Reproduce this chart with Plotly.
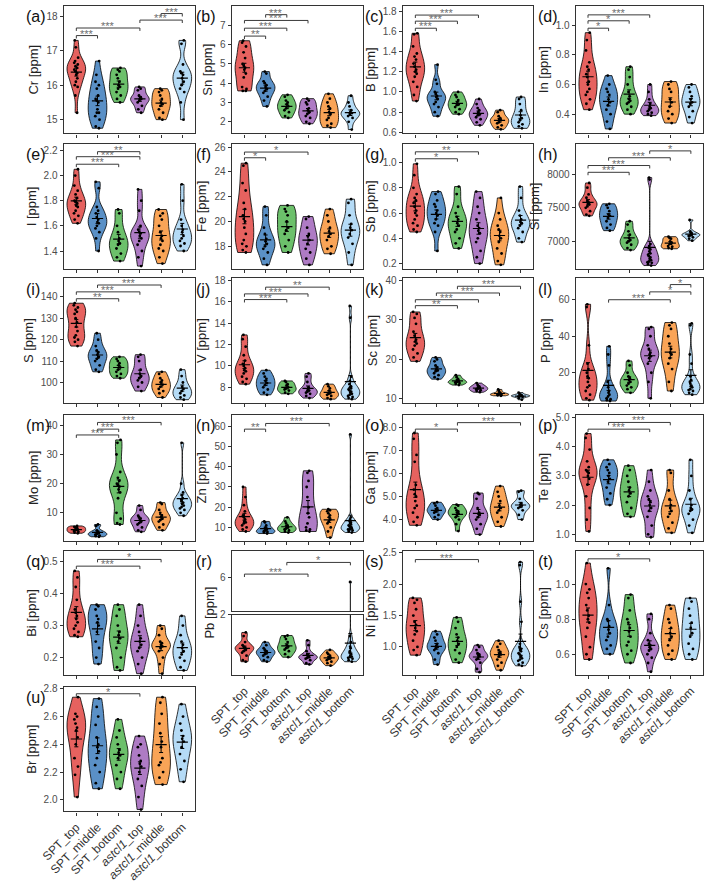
import numpy as np
import plotly.graph_objects as go

W, H = 709, 883
groups = ["SPT_top", "SPT_middle", "SPT_bottom", "<i>astcl1</i>_top", "<i>astcl1</i>_middle", "<i>astcl1</i>_bottom"]
colors = ["#E6625F", "#5A90C6", "#6CC06B", "#AE7BC4", "#F9A457", "#B5DBF6"]

# ---------------- data (ppm), one list per group ----------------
cr = [[17.3,17.1,16.8,16.7,16.65,16.6,16.55,16.5,16.45,16.4,16.35,16.3,16.2,16.1,16.0,15.95,15.7,15.2],
      [16.7,16.3,16.1,16.0,15.9,15.7,15.6,15.55,15.5,15.3,15.2,15.2,15.1,15.0,14.8,14.75],
      [16.5,16.45,16.4,16.3,16.2,16.1,16.0,15.95,15.9,15.8,15.7,15.6,15.5],
      [15.95,15.9,15.85,15.7,15.65,15.6,15.6,15.55,15.5,15.4,15.3,15.2],
      [15.9,15.85,15.8,15.7,15.6,15.5,15.45,15.4,15.3,15.2,15.05,15.0],
      [17.3,17.2,16.6,16.4,16.35,16.3,16.2,16.1,16.0,15.9,15.8,15.5,15.0]]
sn = [[6.2,6.1,5.9,5.6,5.3,5.0,4.9,4.8,4.7,4.5,4.3,3.8,3.7,3.6,3.6],
      [4.6,4.5,4.1,4.0,3.9,3.8,3.7,3.6,3.5,3.3,3.1,2.8],
      [3.4,3.3,3.1,3.0,2.9,2.8,2.7,2.6,2.5,2.3,2.2],
      [3.2,3.1,3.0,2.9,2.7,2.6,2.5,2.4,2.3,2.2,2.0,1.9],
      [3.45,3.2,3.0,2.8,2.7,2.5,2.4,2.2,2.1,1.9,1.8,1.7],
      [3.35,3.0,2.8,2.6,2.5,2.45,2.4,2.3,2.2,2.0,1.6]]
b = [[1.58,1.57,1.45,1.38,1.35,1.32,1.28,1.25,1.22,1.2,1.18,1.15,1.1,1.05,0.97,0.91],
     [1.27,1.12,1.08,1.0,0.98,0.96,0.95,0.93,0.9,0.88,0.85,0.8,0.76],
     [1.0,0.97,0.95,0.92,0.9,0.88,0.87,0.85,0.83,0.8,0.78],
     [0.93,0.88,0.84,0.82,0.8,0.78,0.77,0.75,0.73,0.7,0.67],
     [0.82,0.8,0.76,0.74,0.73,0.72,0.7,0.69,0.67,0.65,0.63],
     [0.95,0.93,0.88,0.82,0.77,0.74,0.72,0.7,0.68,0.66,0.64]]
inn = [[0.95,0.9,0.83,0.75,0.72,0.7,0.67,0.65,0.62,0.6,0.57,0.55,0.53,0.5,0.47,0.43],
       [0.66,0.6,0.57,0.55,0.53,0.5,0.48,0.46,0.43,0.4,0.35,0.3],
       [0.72,0.7,0.65,0.6,0.55,0.52,0.5,0.49,0.48,0.47,0.45,0.43,0.4],
       [0.6,0.55,0.5,0.47,0.45,0.44,0.43,0.42,0.41,0.4,0.39],
       [0.62,0.6,0.57,0.55,0.5,0.48,0.45,0.42,0.4,0.37,0.34],
       [0.6,0.58,0.55,0.52,0.5,0.48,0.47,0.45,0.42,0.38,0.34]]
io = [[2.05,2.0,1.92,1.88,1.85,1.82,1.8,1.79,1.78,1.76,1.75,1.72,1.7,1.68,1.65,1.62],
      [1.95,1.9,1.75,1.72,1.7,1.67,1.65,1.63,1.62,1.6,1.58,1.55,1.5,1.4],
      [1.73,1.7,1.6,1.55,1.5,1.48,1.46,1.45,1.42,1.38,1.35,1.32],
      [1.89,1.8,1.72,1.6,1.57,1.55,1.54,1.52,1.5,1.48,1.45,1.4,1.35,1.28],
      [1.73,1.7,1.68,1.65,1.6,1.55,1.52,1.5,1.48,1.45,1.42,1.4,1.35,1.3],
      [1.93,1.8,1.65,1.6,1.57,1.55,1.52,1.5,1.48,1.46,1.44,1.4]]
fe = [[24.7,24.5,23.1,22.5,21.5,21.0,20.5,20.2,20.0,19.5,19.0,18.5,18.2,18.0,17.7,17.5],
      [21.2,20.5,19.5,19.0,18.6,18.4,18.2,18.0,17.8,17.5,17.0,16.5],
      [21.3,21.0,20.8,20.5,20.0,19.5,19.3,19.0,18.5,18.0,17.5],
      [20.4,20.2,19.5,19.0,18.8,18.5,18.2,17.8,17.5,17.0,16.5],
      [21.0,20.5,20.0,19.5,19.2,19.0,18.8,18.5,18.0,17.8,17.4],
      [21.8,21.5,20.5,19.8,19.5,19.3,19.0,18.7,18.2,17.5,16.5]]
sb = [[0.99,0.9,0.8,0.75,0.72,0.7,0.68,0.65,0.62,0.6,0.58,0.55,0.52,0.5,0.47,0.45],
      [0.77,0.75,0.7,0.67,0.65,0.62,0.6,0.58,0.55,0.52,0.5,0.45,0.3],
      [0.81,0.75,0.65,0.6,0.57,0.55,0.52,0.5,0.47,0.45,0.4,0.36,0.32],
      [0.77,0.72,0.65,0.6,0.55,0.5,0.48,0.46,0.44,0.4,0.37,0.3,0.25,0.2],
      [0.72,0.6,0.55,0.5,0.47,0.45,0.42,0.4,0.37,0.32,0.28,0.22,0.19],
      [0.81,0.72,0.62,0.58,0.55,0.53,0.52,0.5,0.48,0.45,0.4,0.37]]
si = [[7870,7800,7700,7650,7600,7580,7560,7550,7520,7500,7450,7400,7380],
      [7560,7540,7500,7450,7400,7380,7350,7300,7250,7200,7160],
      [7300,7250,7150,7100,7050,7020,7000,6980,6950,6900,6870],
      [7950,7920,6960,6930,6900,6880,6850,6820,6800,6780,6760,6740,6720,6700,6690,6680,6660,6640],
      [7070,7050,7040,7000,6980,6960,6930,6920,6900,6890],
      [7320,7150,7120,7110,7100,7090,7080,7060,7040,7010]]
s = [[137,136,135,134,133,132,130,128,126,124,122,121,120,119,117],
     [123,120,117,115,114,113,112,111,110,108,106,105],
     [112,111,110,109,108,107,106,105,104,103,102],
     [113,112,110,106,104,103,102,101,100,98,96],
     [105,104,102,101,100,99,98,97,96,95,93],
     [106,103,100,98,97,96,95,94,93,92]]
v = [[12.9,12.5,11.8,11.0,10.5,10.2,10.0,9.8,9.6,9.5,9.3,9.0,8.8,8.5,8.3],
     [9.6,9.3,9.0,8.8,8.6,8.4,8.2,8.0,7.8,7.5,7.3],
     [8.6,8.5,8.3,8.2,8.0,7.9,7.8,7.7,7.5,7.4],
     [9.3,9.0,8.5,8.0,7.8,7.7,7.6,7.5,7.4,7.2,7.0],
     [8.3,8.1,7.9,7.7,7.5,7.4,7.3,7.2,7.0,6.9],
     [15.6,14.5,9.0,8.6,8.3,8.1,8.0,7.9,7.8,7.7,7.6,7.5,7.4,7.3,7.2,7.1,7.0,6.9]]
sc = [[32,31.5,30.5,29,27,26,25,24.5,24,23.5,22.5,21.5,20.5,19.5],
      [20.5,20,19.5,18.5,18,17.5,17.2,17,16.5,16,15.5,15],
      [16,15.5,15,14.8,14.5,14.3,14.2,14,13.8,13.5],
      [14,13.5,13.2,13,12.8,12.6,12.4,12.2,12,11.7],
      [12.4,12,11.6,11.4,11.3,11.2,11.1,11,10.9,10.8],
      [11.6,11.2,11,10.9,10.8,10.7,10.6,10.5,10.2,9.8]]
p = [[57.5,56,35,25,22,20,18,17,15,13,12,10,8,6,5],
     [34.5,30,24,15,12,10,9,8,7,6,5.5,5,4.5],
     [26.5,24,20,18,17,16,15,14,13,12,11,9],
     [45,44,40,35,33,31,30,29,28,25,20,15,6],
     [47.5,46,44,40,36,33,31,30,28,25,22,15,10],
     [47,46,30,25,18,16,15,14,13,12.5,12,11,10.5,10,9,8]]
mo = [[5.5,5.2,5,4.8,4.5,4.2,4,3.8,3.5,3.2,3],
      [6,5.5,4,3.5,3.2,3,2.8,2.5,2.2,2,1.8],
      [35,34,30,24,22,21,20,19.5,19,18,17,15,10,8,6.5,6],
      [12.5,11,9,8.5,8,7.5,7,6.5,6,5,4,3.5],
      [13.5,13,11,10,9,8.5,8,7.5,7,6,5,4],
      [34,20,17,16,15,14.5,14,13.5,13,12.5,12,11.5,11,10,9]]
zn = [[30,25,21,18,16,15,14,13,12.5,12,11,10,9,8],
      [13,12.5,11,10,9,8.5,8,7.8,7.5,7],
      [15,13,12,11,10.5,10,9.5,9,8.5,8,7.5],
      [38,37,33,30,25,20,17,15,12,10,9,8.5,8],
      [19,18.5,18,17,16,15,14,13,12,10,8,5],
      [56,15,14,13,12.5,12,11.5,11,10.5,10,10,9.5,9,9,8.5,8,7.5]]
ga = [[7.75,7.5,6.8,6.5,5.5,5.3,5.1,5.0,4.8,4.6,4.5,4.3,4.1,3.9,3.75],
      [4.75,4.7,4.6,4.5,4.45,4.4,4.35,4.3,4.2,4.1,4.0],
      [4.65,4.6,4.5,4.4,4.35,4.3,4.25,4.2,4.1,4.0,3.8,3.5],
      [5.15,5.1,4.9,4.5,4.3,4.25,4.2,4.1,4.0,3.8,3.6,3.35],
      [5.45,5.2,5.0,4.8,4.6,4.5,4.4,4.3,4.1,3.9,3.7],
      [5.25,5.2,4.9,4.7,4.65,4.6,4.55,4.5,4.4,4.2,4.0]]
te = [[4.45,4.3,3.9,3.5,3.3,3.2,3.15,3.1,3.0,2.9,2.7,2.3,1.9,1.5,1.1],
      [3.55,3.4,3.3,3.2,3.1,3.0,2.9,2.8,2.6,2.4,2.2,2.0],
      [3.35,3.2,3.0,2.8,2.6,2.5,2.4,2.3,2.1,1.9,1.7,1.6],
      [3.2,2.8,2.5,2.3,2.2,2.1,2.0,1.9,1.8,1.6,1.3,1.0,0.9],
      [3.2,3.1,2.5,2.2,2.0,1.9,1.8,1.7,1.6,1.4,1.2,1.05],
      [3.55,3.0,2.5,2.2,2.0,1.9,1.85,1.8,1.7,1.5,1.3,1.05]]
bi = [[0.47,0.45,0.42,0.38,0.35,0.34,0.33,0.32,0.31,0.3,0.29,0.28,0.27,0.265],
      [0.365,0.36,0.35,0.33,0.32,0.31,0.3,0.28,0.25,0.23,0.2,0.18],
      [0.365,0.35,0.33,0.3,0.28,0.27,0.26,0.25,0.23,0.2,0.17,0.16],
      [0.365,0.33,0.3,0.28,0.26,0.25,0.24,0.23,0.22,0.2,0.18,0.15],
      [0.3,0.29,0.27,0.25,0.245,0.24,0.235,0.23,0.22,0.2,0.18,0.15],
      [0.33,0.3,0.27,0.25,0.24,0.23,0.22,0.21,0.2,0.19,0.17,0.16]]
pb = [[1.42,1.3,1.1,1.0,0.95,0.92,0.9,0.85,0.8,0.75,0.65,0.5,0.45],
      [1.1,1.0,0.9,0.85,0.8,0.77,0.75,0.7,0.65,0.6,0.5,0.45],
      [1.32,1.28,1.2,1.1,1.0,0.95,0.9,0.85,0.8,0.7,0.6],
      [1.16,1.0,0.8,0.7,0.65,0.62,0.6,0.58,0.55,0.5,0.4,0.36],
      [0.84,0.75,0.7,0.65,0.6,0.58,0.55,0.5,0.45,0.4,0.32],
      [5.5,1.3,1.1,0.95,0.9,0.8,0.75,0.7,0.65,0.62,0.6,0.58,0.55,0.5,0.45]]
ni = [[1.78,1.75,1.7,1.6,1.5,1.4,1.35,1.3,1.25,1.2,1.1,1.0,0.95,0.87],
      [1.25,1.2,1.15,1.1,1.05,1.02,1.0,0.98,0.95,0.9,0.8,0.72],
      [1.47,1.4,1.3,1.2,1.15,1.1,1.05,1.0,0.95,0.9,0.8,0.75],
      [1.03,1.0,0.95,0.9,0.88,0.86,0.85,0.82,0.8,0.75,0.65,0.6],
      [1.1,1.05,1.0,0.95,0.92,0.9,0.88,0.85,0.8,0.75,0.7,0.63],
      [2.35,2.3,1.72,1.4,1.05,1.0,0.97,0.95,0.93,0.9,0.88,0.86,0.84,0.82,0.8,0.78,0.75,0.72,0.7]]
cs = [[1.12,1.0,0.97,0.95,0.92,0.88,0.85,0.82,0.8,0.78,0.75,0.7,0.64,0.6,0.57],
      [1.09,0.88,0.8,0.79,0.76,0.74,0.72,0.7,0.68,0.65,0.63,0.6],
      [0.94,0.92,0.85,0.8,0.78,0.75,0.73,0.7,0.67,0.65,0.62,0.6,0.55],
      [0.83,0.8,0.72,0.68,0.66,0.65,0.64,0.63,0.62,0.6,0.58,0.55,0.5],
      [0.88,0.86,0.8,0.78,0.75,0.72,0.7,0.68,0.65,0.62,0.6,0.57],
      [0.92,0.9,0.86,0.82,0.78,0.75,0.72,0.7,0.66,0.63,0.6,0.57]]
br = [[2.74,2.62,2.6,2.58,2.55,2.52,2.5,2.45,2.4,2.3,2.24,2.18,2.02],
      [2.73,2.67,2.6,2.54,2.45,2.4,2.38,2.35,2.3,2.25,2.2,2.12,2.08],
      [2.58,2.5,2.45,2.4,2.36,2.34,2.32,2.3,2.25,2.2,2.15,2.08],
      [2.46,2.4,2.38,2.32,2.28,2.26,2.24,2.2,2.15,2.1,2.02,1.93],
      [2.74,2.7,2.62,2.55,2.48,2.42,2.38,2.3,2.27,2.25,2.2,2.16,2.11],
      [2.69,2.6,2.55,2.5,2.46,2.44,2.42,2.38,2.33,2.28,2.22,2.13]]

# ---------------- panel settings ----------------
panels = [
    ("(a)", "Cr [ppm]", cr, [14.6, 18.3], [15, 16, 17, 18], None,
     [(0, 1, "***", 17.44), (0, 3, "***", 17.66), (3, 5, "***", 17.89), (4, 5, "***", 18.08)]),
    ("(b)", "Sn [ppm]", sn, [1.4, 8.0], [2, 3, 4, 5, 6, 7], None,
     [(0, 1, "**", 6.44), (0, 2, "***", 6.85), (0, 3, "***", 7.25), (1, 2, "***", 7.55)]),
    ("(c)", "B [ppm]", b, [0.59, 1.85], [0.6, 0.8, 1.0, 1.2, 1.4, 1.6, 1.8], ".1f",
     [(0, 1, "***", 1.63), (0, 2, "***", 1.70), (0, 3, "***", 1.76)]),
    ("(d)", "In [ppm]", inn, [0.27, 1.13], [0.4, 0.6, 0.8, 1.0], ".1f",
     [(0, 1, "*", 0.98), (0, 2, "*", 1.03), (0, 3, "***", 1.07)]),
    ("(e)", "I [ppm]", io, [1.26, 2.25], [1.4, 1.6, 1.8, 2.0, 2.2], ".1f",
     [(0, 2, "***", 2.09), (0, 3, "***", 2.15), (1, 3, "**", 2.19)]),
    ("(f)", "Fe [ppm]", fe, [16.2, 26.24], [18, 20, 22, 24, 26], None,
     [(0, 1, "*", 25.14), (0, 3, "*", 25.6)]),
    ("(g)", "Sb [ppm]", sb, [0.16, 1.146], [0.2, 0.4, 0.6, 0.8, 1.0], ".1f",
     [(0, 2, "*", 1.03), (0, 3, "**", 1.085)]),
    ("(h)", "Si [ppm]", si, [6594, 8449], [7000, 7500, 8000], "d",
     [(0, 2, "***", 8029), (0, 3, "***", 8130), (1, 4, "***", 8246), (3, 5, "*", 8348)]),
    ("(i)", "S [ppm]", s, [90.5, 148.6], [100, 110, 120, 130, 140], None,
     [(0, 2, "**", 139.1), (0, 3, "***", 142.3), (1, 4, "***", 145.5)]),
    ("(j)", "V [ppm]", v, [6.55, 18.18], [8, 10, 12, 14, 16, 18], None,
     [(0, 2, "***", 16.2), (0, 3, "***", 16.73), (1, 4, "**", 17.36)]),
    ("(k)", "Sc [ppm]", sc, [9.0, 40.5], [10, 20, 30, 40], None,
     [(0, 2, "**", 33.6), (0, 3, "***", 35.1), (1, 4, "***", 36.8), (2, 5, "***", 38.5)]),
    ("(l)", "P [ppm]", p, [3.5, 71.7], [20, 40, 60], None,
     [(1, 4, "***", 60.0), (3, 5, "*", 64.3), (4, 5, "*", 68.3)]),
    ("(m)", "Mo [ppm]", mo, [0.33, 43.7], [10, 20, 30, 40], None,
     [(0, 2, "***", 36.7), (1, 2, "***", 38.7), (1, 4, "***", 41.0)]),
    ("(n)", "Zn [ppm]", zn, [3.3, 65.8], [10, 20, 30, 40, 50, 60], None,
     [(0, 1, "**", 58.6), (1, 4, "***", 61.4)]),
    ("(o)", "Ga [ppm]", ga, [3.07, 8.55], [4, 5, 6, 7, 8], ".1f",
     [(0, 2, "*", 7.92), (2, 5, "***", 8.2)]),
    ("(p)", "Te [ppm]", te, [0.77, 5.1], [1, 2, 3, 4, 5], ".1f",
     [(0, 3, "***", 4.6), (1, 4, "***", 4.83)]),
    ("(q)", "Bi [ppm]", bi, [0.145, 0.533], [0.2, 0.3, 0.4, 0.5], ".1f",
     [(0, 3, "***", 0.485), (1, 4, "*", 0.506)]),
    ("(r)", "Pb [ppm]", pb, [0.0, 2.001], [2], None,
     [(0, 3, "***", 6.5), (2, 5, "*", 8.0)]),
    ("(s)", "Ni [ppm]", ni, [0.55, 2.53], [1.0, 1.5, 2.0, 2.5], ".1f",
     [(0, 3, "***", 2.39)]),
    ("(t)", "Cs [ppm]", cs, [0.48, 1.19], [0.6, 0.8, 1.0], ".1f",
     [(0, 3, "*", 1.144)]),
    ("(u)", "Br [ppm]", br, [1.916, 2.814], [2.0, 2.2, 2.4, 2.6, 2.8], ".1f",
     [(0, 3, "*", 2.765)]),
]
pb_upper_range = [1.75, 9.5]
pb_upper_ticks = [6]

col_px = [(41, 177), (215, 351), (392, 527), (571, 703)]
row_px = [(1, 132), (143, 271), (281, 409), (421, 551), (561, 689), (701, 829)]
FONT = "Liberation Sans, Arial, sans-serif"


def bw_nrd0(vals):
    a = np.asarray(vals, float)
    sd = a.std(ddof=1)
    q75, q25 = np.percentile(a, [75, 25])
    lo = min(sd, (q75 - q25) / 1.34) if q75 > q25 else sd
    return 0.9 * lo * len(a) ** -0.2


fig = go.Figure()
layout = dict(width=W, height=H, margin=dict(l=0, r=0, t=0, b=0),
              paper_bgcolor="white", plot_bgcolor="white", showlegend=False,
              violinmode="overlay", font=dict(family=FONT, color="#222"))
shapes, annots = [], []


def axis_style(**kw):
    d = dict(showline=True, mirror=True, linecolor="#333", linewidth=1.2,
             ticks="outside", ticklen=3, tickcolor="#333", tickwidth=1,
             showgrid=False, zeroline=False, tickfont=dict(size=10, color="#4d4d4d"))
    d.update(kw)
    return d


def add_violins(data, xa, ya, with_mean=True):
    for gi, vals in enumerate(data):
        fig.add_trace(go.Violin(
            x=[gi] * len(vals), y=vals, xaxis=xa, yaxis=ya,
            fillcolor=colors[gi], line=dict(color="black", width=0.8), opacity=1,
            points="all", pointpos=0, jitter=0.3,
            marker=dict(size=2.8, color="black", line=dict(width=0)),
            spanmode="hard", scalemode="width", width=0.88,
            bandwidth=bw_nrd0(vals), box_visible=False, meanline_visible=False,
            showlegend=False, hoverinfo="skip"))
        if with_mean:
            arr = np.asarray(vals, float)
            m = arr.mean()
            se = arr.std(ddof=1) / np.sqrt(len(arr))
            fig.add_trace(go.Scatter(
                x=[gi], y=[m], xaxis=xa, yaxis=ya, mode="markers",
                marker=dict(symbol="line-ew", size=8, line=dict(width=1.2, color="black")),
                error_y=dict(type="data", array=[se], width=2, thickness=1, color="black"),
                showlegend=False, hoverinfo="skip"))


def add_brackets(brs, xa, ya, yr, hpx):
    d = 3.0 * (yr[1] - yr[0]) / hpx
    for (i, j, lab, y) in brs:
        for (x0, y0, x1, y1) in [(i, y, j, y), (i, y, i, y - d), (j, y, j, y - d)]:
            shapes.append(dict(type="line", xref=xa, yref=ya, x0=x0, y0=y0, x1=x1, y1=y1,
                               line=dict(color="#3a3a3a", width=1)))
        annots.append(dict(x=(i + j) / 2, y=y, xref=xa, yref=ya, text=lab, showarrow=False,
                           yanchor="middle", yshift=2, font=dict(size=11, color="#6e6e6e")))


def py(px):
    return 1 - px / H


n_extra = len(panels) + 1
for k, (tag, ylab, data, yr, tv, fmt, brs) in enumerate(panels):
    row, col = (k // 4, k % 4) if k < 20 else (5, 0)
    n = k + 1
    xa, ya = ("x" if n == 1 else f"x{n}"), ("y" if n == 1 else f"y{n}")
    xkey, ykey = ("xaxis" if n == 1 else f"xaxis{n}"), ("yaxis" if n == 1 else f"yaxis{n}")
    cx0, cx1 = col_px[col]
    ry0, ry1 = row_px[row]
    show_lab = (row == 4 and col > 0) or row == 5
    if tag == "(r)":
        ry0_low = 627
        up_top, up_bot = ry0, 623
        # upper part of broken axis
        ux, uy = f"x{n_extra}", f"y{n_extra}"
        layout[f"xaxis{n_extra}"] = axis_style(domain=[cx0 / W, cx1 / W], anchor=uy,
                                             range=[-0.6, 5.6], ticks="", showticklabels=False)
        layout[f"yaxis{n_extra}"] = axis_style(domain=[py(up_bot), py(up_top)], anchor=ux,
                                             range=pb_upper_range, tickvals=pb_upper_ticks)
        add_violins(data, ux, uy, with_mean=False)
        add_brackets(brs, ux, uy, pb_upper_range, up_bot - up_top)
        ry0 = ry0_low
        annots.append(dict(x=(cx0 - 24) / W, y=py((up_top + ry1) / 2), xref="paper", yref="paper",
                           text=ylab, textangle=-90, showarrow=False, xanchor="center",
                           yanchor="middle", font=dict(size=13, color="#222")))
        ytitle = None
    else:
        ytitle = dict(text=ylab, font=dict(size=13, color="#222"), standoff=4)
    layout[xkey] = axis_style(domain=[cx0 / W, cx1 / W], anchor=ya, range=[-0.6, 5.6],
                              tickvals=list(range(6)), ticktext=groups,
                              showticklabels=show_lab, tickangle=-45,
                              tickfont=dict(size=12, color="#333"))
    ykw = dict(domain=[py(ry1), py(ry0)], anchor=xa, range=yr, tickvals=tv)
    if fmt:
        ykw["tickformat"] = fmt
    if ytitle:
        ykw["title"] = ytitle
    layout[ykey] = axis_style(**ykw)
    add_violins(data, xa, ya)
    if tag != "(r)":
        add_brackets(brs, xa, ya, yr, ry1 - ry0)
    lx = {0: 0, 1: 176, 2: 351, 3: 530}[col]
    annots.append(dict(x=lx / W, y=py(row_px[row][0] + 11), xref="paper", yref="paper",
                       text=tag, showarrow=False, xanchor="left", yanchor="middle",
                       font=dict(size=16, color="#111")))

layout["shapes"] = shapes
layout["annotations"] = annots
fig.update_layout(**layout)
fig.write_html("out.html")
